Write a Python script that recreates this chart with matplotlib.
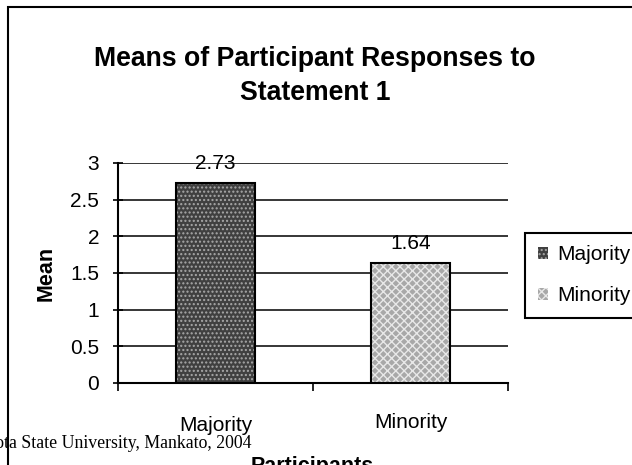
import matplotlib
matplotlib.use("Agg")
import matplotlib.pyplot as plt
from matplotlib.patches import Rectangle

categories = ["Majority", "Minority"]
means = [2.73, 1.64]
yticks = [0, 0.5, 1, 1.5, 2, 2.5, 3]
ytick_labels = ["0", "0.5", "1", "1.5", "2", "2.5", "3"]
face_colors = ["#404040", "#a8a8a8"]
hatch_colors = ["#a8a8a8", "#e8e8e8"]
hatches = ["....", "xxxx"]

plt.rcParams['font.family'] = ['Liberation Sans', 'DejaVu Sans']

fig = plt.figure(figsize=(6.32, 4.65), dpi=100)
W, H = 632, 465
ax = fig.add_axes([118 / W, 1 - 383 / H, (508 - 118) / W, (383 - 163) / H])

FS = 15
x = [0, 1]
width = 0.41
handles = []
for i in range(len(categories)):
    ax.bar(x[i], means[i], width, color=face_colors[i], hatch=hatches[i],
           edgecolor=hatch_colors[i], linewidth=0, zorder=3)
    ax.bar(x[i], means[i], width, fill=False, edgecolor="black", linewidth=1.5, zorder=4)
    handles.append(Rectangle((0, 0), 1, 1, facecolor=face_colors[i], hatch=hatches[i],
                             edgecolor=hatch_colors[i], linewidth=0))
    ax.text(x[i], means[i] + 0.19, f"{means[i]:.2f}", ha="center", va="baseline", fontsize=FS)

ax.set_xlim(-0.5, 1.5)
ax.set_ylim(0, 3)
ax.set_yticks(yticks)
ax.set_yticklabels(ytick_labels, fontsize=FS)
ax.set_xticks([-0.5, 0.5, 1.5])
ax.set_xticklabels([])
cat_baseline_px = [431, 428]
for i, c in enumerate(categories):
    ax.text(x[i], 0, c, ha="center", va="baseline", fontsize=FS,
            transform=ax.get_xaxis_transform() + matplotlib.transforms.ScaledTranslation(
                0, -(cat_baseline_px[i] - 383) / 100, fig.dpi_scale_trans))
ax.tick_params(axis="y", direction="inout", length=7, width=1.2, pad=10)
ax.tick_params(axis="x", direction="out", length=6, width=1.2)
ax.grid(axis="y", color="black", linewidth=1.1, zorder=0)
ax.set_axisbelow(True)
for s in ["top", "right"]:
    ax.spines[s].set_visible(False)
ax.spines["left"].set_linewidth(1.5)
ax.spines["bottom"].set_linewidth(1.5)

fig.text(46 / W, 1 - 273 / H, "Mean", ha="center", va="center", rotation=90,
         fontsize=15.5, fontweight="bold")

fig.text(312 / W, 1 - 472 / H, "Participants", ha="center", va="baseline",
         fontsize=15.5, fontweight="bold")

fig.text(315 / W, 1 - 66 / H, "Means of Participant Responses to", ha="center",
         va="baseline", fontsize=19.2, fontweight="bold")
fig.text(315 / W, 1 - 100 / H, "Statement 1", ha="center",
         va="baseline", fontsize=19.2, fontweight="bold")

fig.text(251 / W, 1 - 448 / H, "Minnesota State University, Mankato, 2004", ha="right",
         va="baseline", fontsize=12.8, family=["Liberation Serif", "DejaVu Serif"])

# outer chart border
fig.add_artist(Rectangle((8 / W, -0.1), 1.2, 1 - 7 / H + 0.1, transform=fig.transFigure,
                         fill=False, edgecolor="black", linewidth=1.5, clip_on=False))

leg = fig.legend(handles, categories, loc="upper left",
                 bbox_to_anchor=(525 / W, 1 - 233 / H), bbox_transform=fig.transFigure,
                 borderaxespad=0, fontsize=FS, handlelength=0.5, handleheight=0.5,
                 handletextpad=0.45, labelspacing=1.05, borderpad=0.6, fancybox=False,
                 edgecolor="black", framealpha=1)
leg.get_frame().set_linewidth(1.5)

fig.savefig("out.png", dpi=100)
